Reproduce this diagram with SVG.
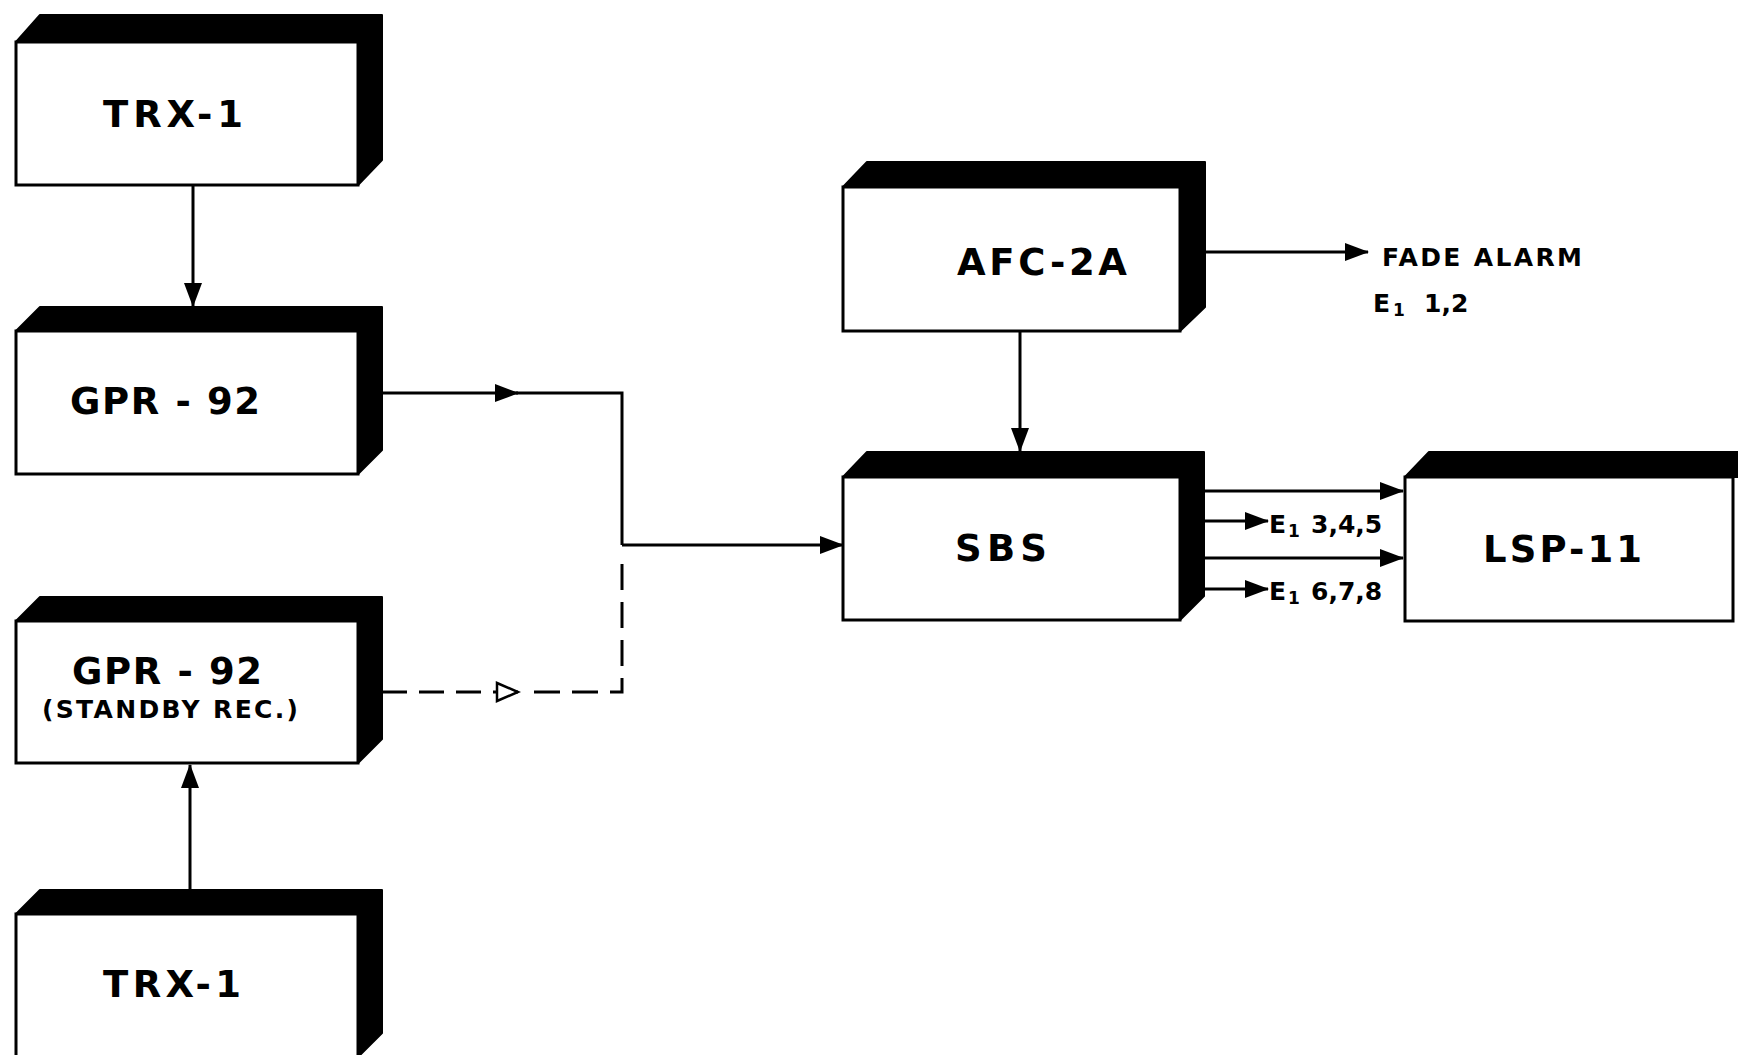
<svg xmlns="http://www.w3.org/2000/svg" width="1738" height="1055" viewBox="0 0 1738 1055">
<style>
.face{fill:#fff;stroke:#000;stroke-width:3}
.side{fill:#000;stroke:#000;stroke-width:2;stroke-linejoin:round}
.big{font-family:"DejaVu Sans","Liberation Sans",sans-serif;font-weight:bold;font-size:37px;fill:#000}
.small{font-family:"DejaVu Sans","Liberation Sans",sans-serif;font-weight:bold;font-size:25px;fill:#000}
.sub{font-size:17px}
.ln{fill:none;stroke:#000;stroke-width:3}
.dash{fill:none;stroke:#000;stroke-width:3;stroke-dasharray:25 12}
</style>
<defs>
<marker id="ah" markerUnits="userSpaceOnUse" markerWidth="24" markerHeight="20" refX="23" refY="10" orient="auto">
<path d="M0,1 L24,10 L0,19 z" fill="#000"/>
</marker>
<marker id="oah" markerUnits="userSpaceOnUse" markerWidth="26" markerHeight="22" refX="23" refY="11" orient="auto">
<path d="M2,2 L23,11 L2,20 z" fill="#fff" stroke="#000" stroke-width="2.5"/>
</marker>
</defs>
<g id="connectors">
<line class="ln" x1="193" y1="185" x2="193" y2="306" marker-end="url(#ah)"/>
<line class="ln" x1="382" y1="393" x2="518" y2="393" marker-end="url(#ah)"/>
<path class="ln" d="M516,393 H622 V545"/>
<line class="ln" x1="622" y1="545" x2="843" y2="545" marker-end="url(#ah)"/>
<line class="dash" x1="382" y1="692" x2="495" y2="692"/>
<line class="ln" x1="495" y1="692" x2="518" y2="692" marker-end="url(#oah)"/>
<path class="dash" d="M534,692 H622 V558" style="stroke-dasharray:26 12"/>
<line class="ln" x1="190" y1="892" x2="190" y2="765" marker-end="url(#ah)"/>
<line class="ln" x1="1205" y1="252" x2="1368" y2="252" marker-end="url(#ah)"/>
<line class="ln" x1="1020" y1="331" x2="1020" y2="451" marker-end="url(#ah)"/>
<line class="ln" x1="1204" y1="491" x2="1403" y2="491" marker-end="url(#ah)"/>
<line class="ln" x1="1204" y1="558" x2="1403" y2="558" marker-end="url(#ah)"/>
<line class="ln" x1="1204" y1="521" x2="1268" y2="521" marker-end="url(#ah)"/>
<line class="ln" x1="1204" y1="589" x2="1268" y2="589" marker-end="url(#ah)"/>
</g>
<g id="trx1-top">
<polygon class="side" points="16,42 40,15 382,15 382,160 358,185"/>
<rect class="face" x="16" y="42" width="342" height="143"/>
<text class="big" x="103" y="127" textLength="140" lengthAdjust="spacing">TRX-1</text>
</g>
<g id="gpr92">
<polygon class="side" points="16,331 40,307 382,307 382,450 358,474"/>
<rect class="face" x="16" y="331" width="342" height="143"/>
<text class="big" x="70" y="414" textLength="190" lengthAdjust="spacing">GPR - 92</text>
</g>
<g id="gpr92-standby">
<polygon class="side" points="16,621 40,597 382,597 382,739 358,763"/>
<rect class="face" x="16" y="621" width="342" height="142"/>
<text class="big" x="72" y="684" textLength="190" lengthAdjust="spacing">GPR - 92</text>
<text class="small" x="42" y="718" textLength="256" lengthAdjust="spacing">(STANDBY REC.)</text>
</g>
<g id="trx1-bottom">
<polygon class="side" points="16,914 40,890 382,890 382,1033 358,1057"/>
<rect class="face" x="16" y="914" width="342" height="143"/>
<text class="big" x="103" y="997" textLength="138" lengthAdjust="spacing">TRX-1</text>
</g>
<g id="afc2a">
<polygon class="side" points="843,187 867,162 1205,162 1205,307 1180,331"/>
<rect class="face" x="843" y="187" width="337" height="144"/>
<text class="big" x="957" y="275" textLength="170" lengthAdjust="spacing">AFC-2A</text>
</g>
<g id="sbs">
<polygon class="side" points="843,477 867,452 1204,452 1204,596 1180,620"/>
<rect class="face" x="843" y="477" width="337" height="143"/>
<text class="big" x="955" y="561" textLength="92" lengthAdjust="spacing">SBS</text>
</g>
<g id="lsp11">
<polygon class="side" points="1405,477 1429,452 1740,452 1740,477"/>
<rect class="face" x="1405" y="477" width="328" height="144"/>
<text class="big" x="1483" y="562" textLength="159" lengthAdjust="spacing">LSP-11</text>
</g>
<g id="labels">
<text class="small" x="1382" y="266" textLength="200" lengthAdjust="spacing">FADE ALARM</text>
<text class="small" x="1373" y="312">E<tspan class="sub" x="1393" dy="4">1</tspan><tspan x="1424" dy="-4">1,2</tspan></text>
<text class="small" x="1269" y="533">E<tspan class="sub" x="1288" dy="4">1</tspan><tspan x="1311" dy="-4">3,4,5</tspan></text>
<text class="small" x="1269" y="600">E<tspan class="sub" x="1288" dy="4">1</tspan><tspan x="1311" dy="-4">6,7,8</tspan></text>
</g>
</svg>
